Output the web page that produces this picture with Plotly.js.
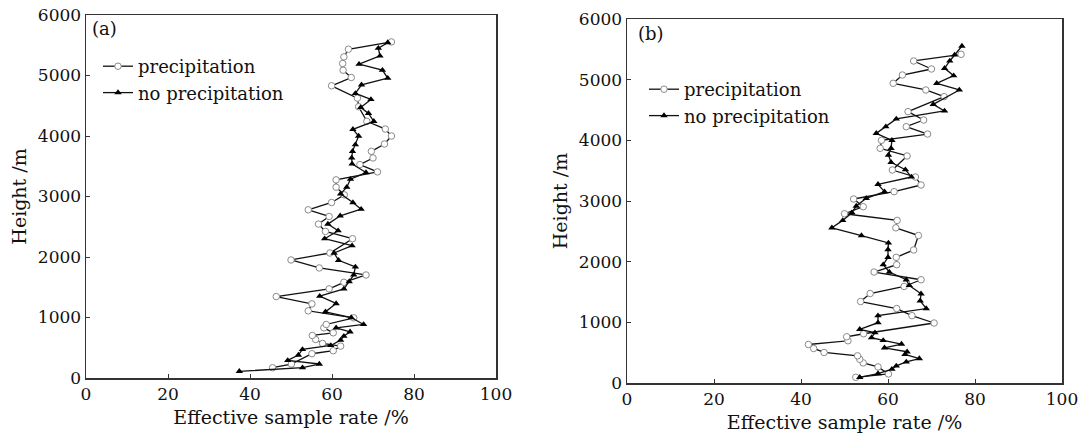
<!DOCTYPE html>
<html>
<head>
<meta charset="utf-8">
<script src="https://cdn.plot.ly/plotly-3.0.1.min.js"></script>
<style>
html,body{margin:0;padding:0;background:#fff;}
#chart{width:1092px;height:436px;}
</style>
</head>
<body>
<div id="chart"></div>
<script>
// ---------- Panel (a) ----------
var heightA_precip = [170,231,401,451,527,571,637,703,747,830,885,995,1110,1225,1346,1473,1582,1703,1819,1951,2066,2302,2423,2544,2670,2780,2901,3027,3154,3275,3407,3527,3637,3747,3868,4000,4115,4242,4484,4626,4830,4967,5088,5198,5308,5434,5555];
var rateA_precip   = [45.5,50.1,55.1,60.3,62.1,57.7,56.0,55.2,60.3,58.0,58.6,65.3,54.2,55.1,46.4,59.3,62.9,68.3,56.9,50.0,59.5,65.0,58.4,56.7,59.3,54.2,59.9,63.0,61.0,61.0,71.1,66.8,70.0,69.6,72.8,74.5,73.0,68.5,66.5,66.2,59.9,64.7,62.7,62.6,62.9,64.0,74.5];

var heightA_noprecip = [110,170,231,291,379,473,538,626,692,764,830,885,1000,1093,1231,1352,1473,1593,1703,1835,1945,2066,2187,2302,2434,2544,2681,2791,2900,3045,3154,3286,3396,3538,3637,3747,3857,4000,4110,4242,4374,4473,4604,4703,4846,4956,5088,5187,5324,5451,5544];
var rateA_noprecip   = [37.4,52.8,56.9,49.2,51.8,52.8,59.7,62.1,62.9,64.4,61.0,67.7,64.7,58.4,61.0,57.0,62.9,64.2,65.3,65.7,61.6,60.5,64.9,58.2,61.5,59.0,62.0,67.1,65.1,62.1,63.6,64.5,68.3,64.9,64.8,65.0,65.7,66.5,65.1,70.2,68.9,67.0,69.5,65.7,67.2,73.6,72.3,66.6,71.7,71.3,73.6];

// ---------- Panel (b) ----------
var heightB_precip = [94,149,265,331,392,448,503,569,635,696,762,812,989,1110,1227,1343,1475,1591,1702,1829,1950,2072,2193,2431,2558,2680,2790,2906,3033,3154,3264,3396,3511,3742,3868,4000,4104,4225,4335,4473,4720,4830,4940,5077,5176,5308,5418];
var rateB_precip   = [52.6,60.1,57.7,54.3,53.5,53.0,45.3,42.9,41.7,50.8,50.5,54.4,70.6,65.5,62.0,53.7,55.9,63.7,67.6,56.8,62.0,61.9,65.9,67.0,61.8,62.1,50.0,54.3,52.1,61.4,67.6,66.3,61.0,64.4,58.2,58.5,69.1,64.2,68.2,64.6,72.9,68.7,61.2,63.3,70.0,65.9,76.8];

var heightB_noprecip = [94,155,227,282,348,403,470,514,580,641,702,746,829,884,994,1110,1227,1354,1470,1608,1702,1829,1950,2072,2199,2309,2431,2558,2680,2807,2917,3044,3154,3275,3396,3516,3637,3758,3868,4000,4115,4225,4352,4484,4593,4830,4940,5066,5187,5308,5407,5555];
var rateB_noprecip   = [53.5,57.7,60.9,61.9,64.2,67.2,63.9,64.4,59.2,63.1,58.9,56.2,57.0,53.5,57.7,57.7,68.8,67.4,67.6,64.9,64.2,60.3,58.9,60.0,60.0,60.1,53.9,47.1,49.6,51.7,52.7,55.0,59.2,57.7,65.4,64.0,60.7,60.1,60.7,60.9,57.3,59.5,61.9,73.0,70.4,76.4,71.2,75.1,73.0,74.2,75.3,77.0];

var seriesNames = ['precipitation', 'no precipitation'];
var panelLabels = ['(a)', '(b)'];
var xTitle = 'Effective sample rate /%';
var yTitle = 'Height /m';

var FONT = 'DejaVu Serif, Liberation Serif, serif';

function precipTrace(x, y, xa, ya, lg) {
  return {
    x: x, y: y, xaxis: xa, yaxis: ya, type: 'scatter', mode: 'lines+markers',
    name: seriesNames[0], legend: lg, showlegend: true,
    line: {color: '#111', width: 1.3},
    marker: {symbol: 'circle', size: 6.5, color: '#fff', line: {color: '#8a8a8a', width: 1}}
  };
}
function noPrecipTrace(x, y, xa, ya, lg) {
  return {
    x: x, y: y, xaxis: xa, yaxis: ya, type: 'scatter', mode: 'lines+markers',
    name: seriesNames[1], legend: lg, showlegend: true,
    line: {color: '#111', width: 1.3},
    marker: {symbol: 'triangle-up', size: 6.5, color: '#000', line: {width: 0}}
  };
}

var data = [
  precipTrace(rateA_precip, heightA_precip, 'x', 'y', 'legend'),
  noPrecipTrace(rateA_noprecip, heightA_noprecip, 'x', 'y', 'legend'),
  precipTrace(rateB_precip, heightB_precip, 'x2', 'y2', 'legend2'),
  noPrecipTrace(rateB_noprecip, heightB_noprecip, 'x2', 'y2', 'legend2')
];

function xaxis(dom, anchor) {
  return {
    domain: dom, anchor: anchor, range: [0, 100], dtick: 20, tick0: 0,
    ticks: 'inside', ticklen: 4, tickwidth: 1, tickcolor: '#333',
    showline: true, mirror: true, linecolor: '#333', linewidth: 1.5,
    showgrid: false, zeroline: false,
    tickfont: {family: FONT, size: 17, color: '#111'},
    title: {text: xTitle, font: {family: FONT, size: 19, color: '#111'}, standoff: 8},
    automargin: false, fixedrange: true
  };
}
function yaxis(dom, anchor) {
  return {
    domain: dom, anchor: anchor, range: [0, 6000], dtick: 1000, tick0: 0,
    ticks: 'inside', ticklen: 4, tickwidth: 1, tickcolor: '#333',
    showline: true, mirror: true, linecolor: '#333', linewidth: 1.5,
    showgrid: false, zeroline: false,
    tickfont: {family: FONT, size: 17, color: '#111'},
    title: {text: yTitle, font: {family: FONT, size: 19, color: '#111'}, standoff: 6},
    automargin: false, fixedrange: true
  };
}

var W = 1092, H = 436;
var layout = {
  width: W, height: H,
  margin: {l: 0, r: 0, t: 0, b: 0},
  paper_bgcolor: '#fff', plot_bgcolor: '#fff',
  font: {family: FONT, color: '#111'},
  xaxis: xaxis([86 / W, 496 / W], 'y'),
  yaxis: yaxis([(H - 378) / H, (H - 15) / H], 'x'),
  xaxis2: xaxis([627 / W, 1062 / W], 'y2'),
  yaxis2: yaxis([(H - 383) / H, (H - 19) / H], 'x2'),
  legend: {
    x: 98 / W, y: 1 - 48 / H, xanchor: 'left', yanchor: 'top',
    bgcolor: 'rgba(0,0,0,0)', borderwidth: 0,
    font: {family: FONT, size: 18, color: '#111'}, itemwidth: 30, tracegroupgap: 0
  },
  legend2: {
    x: 644 / W, y: 1 - 71 / H, xanchor: 'left', yanchor: 'top',
    bgcolor: 'rgba(0,0,0,0)', borderwidth: 0,
    font: {family: FONT, size: 18, color: '#111'}, itemwidth: 30, tracegroupgap: 0
  },
  annotations: [
    {text: panelLabels[0], xref: 'paper', yref: 'paper', x: 90 / W, y: 1 - 28 / H,
     xanchor: 'left', yanchor: 'middle', showarrow: false, font: {family: FONT, size: 18, color: '#111'}},
    {text: panelLabels[1], xref: 'paper', yref: 'paper', x: 636 / W, y: 1 - 33 / H,
     xanchor: 'left', yanchor: 'middle', showarrow: false, font: {family: FONT, size: 18, color: '#111'}}
  ]
};

Plotly.newPlot('chart', data, layout, {staticPlot: true, displayModeBar: false});
</script>
</body>
</html>
